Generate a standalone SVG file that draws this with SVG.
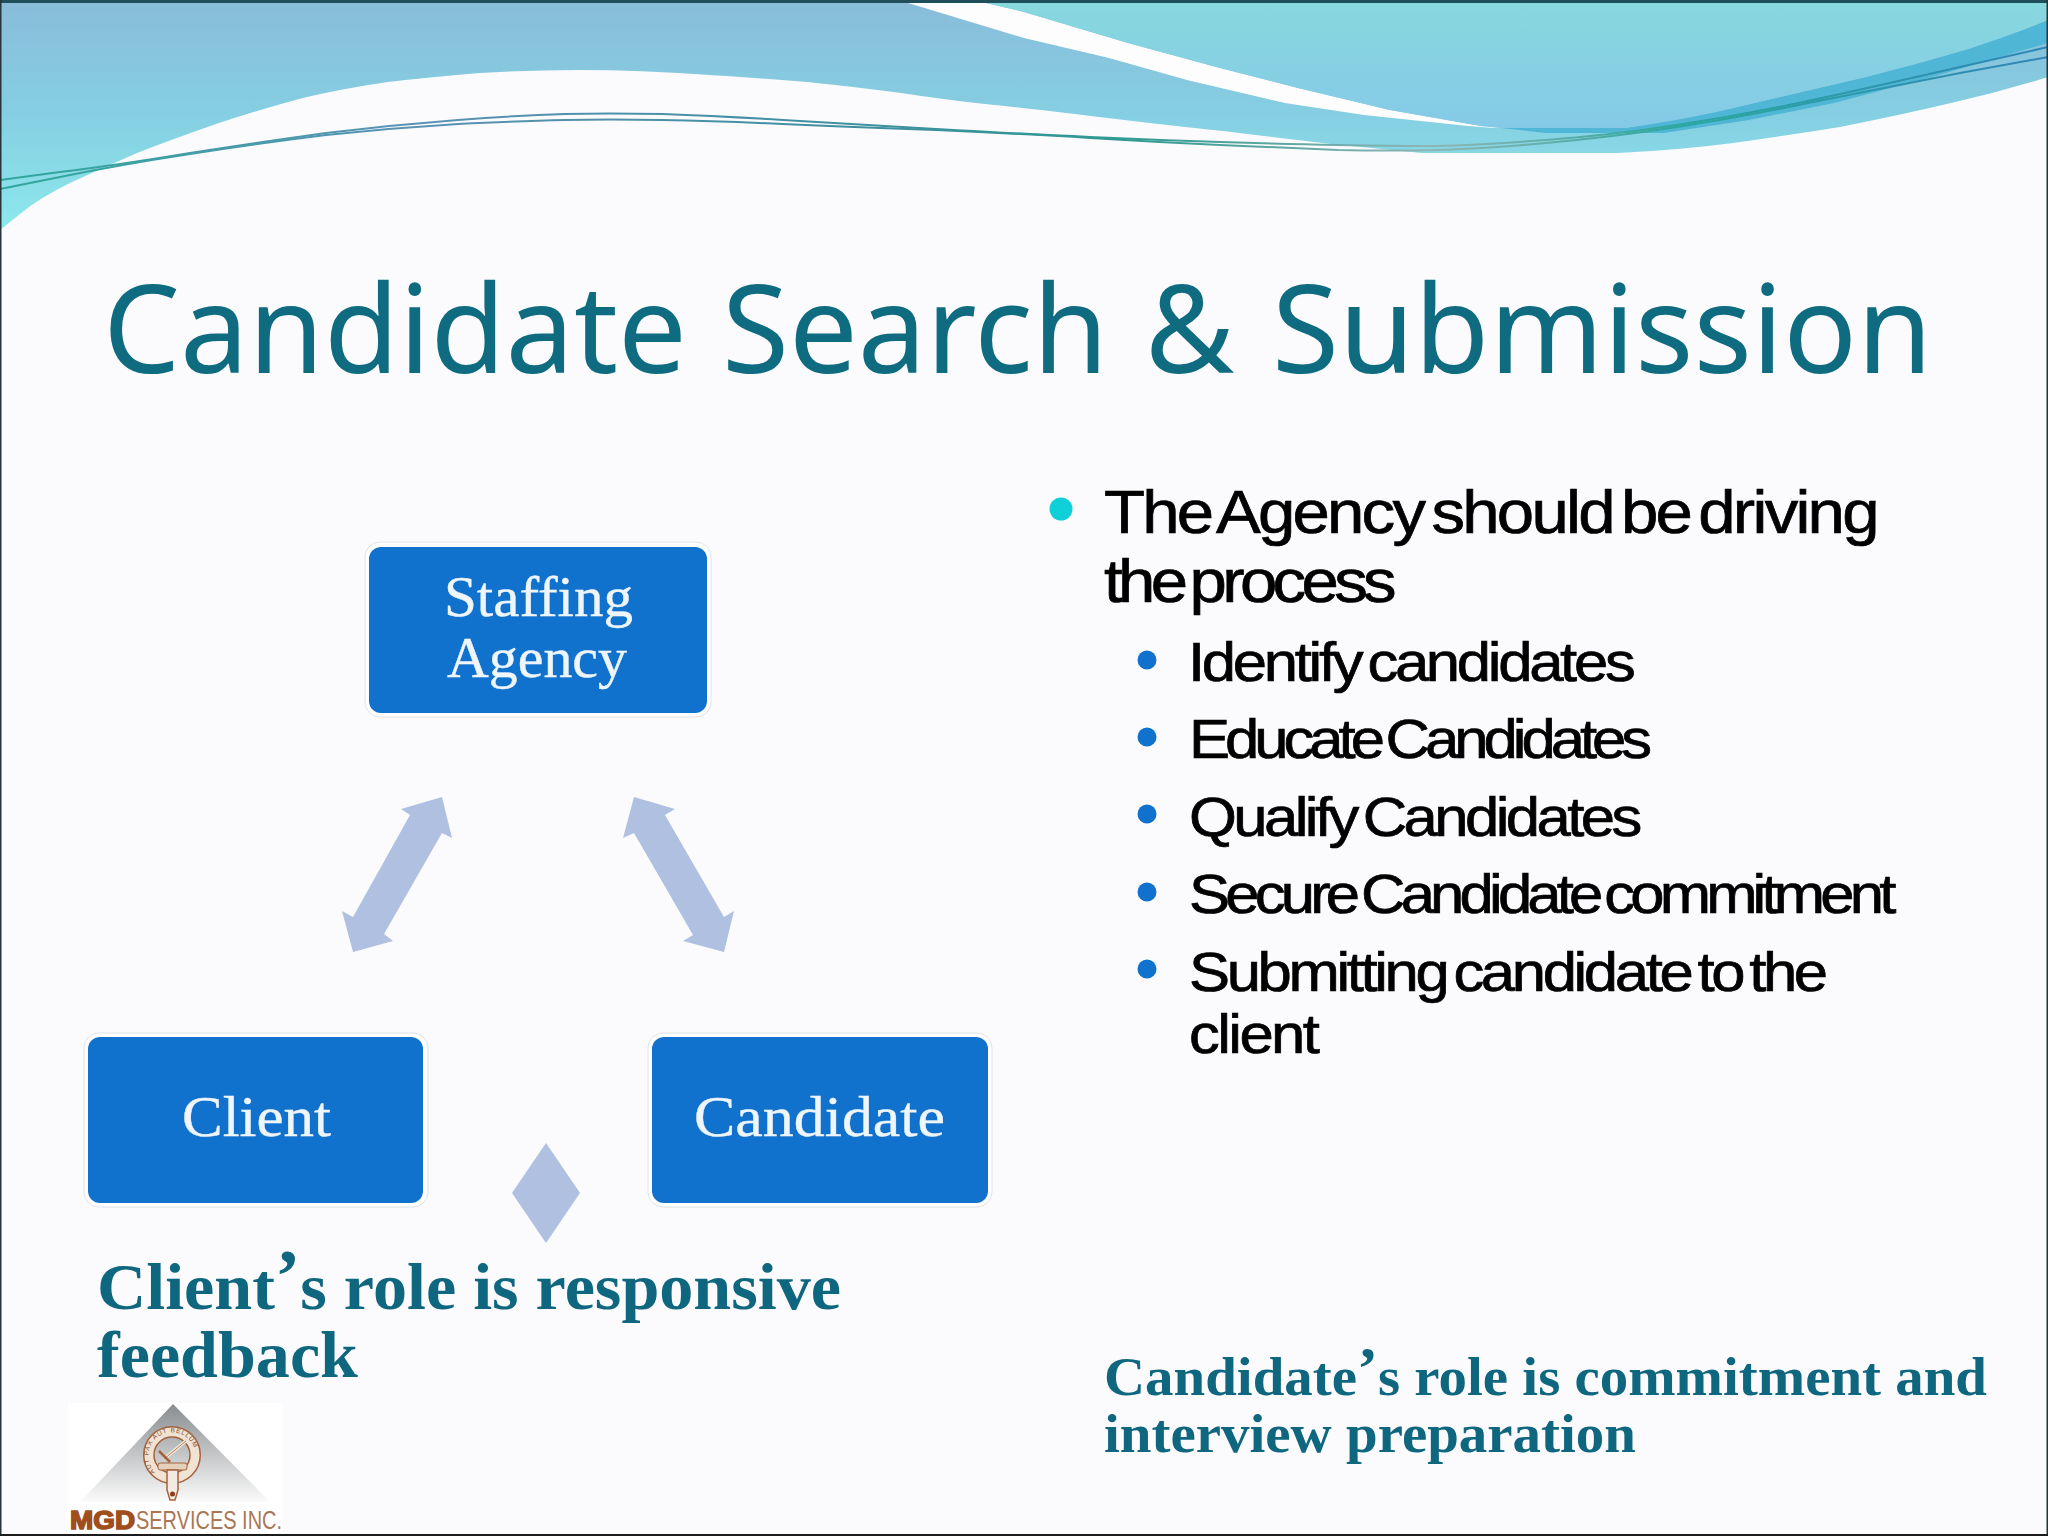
<svg xmlns="http://www.w3.org/2000/svg" width="2048" height="1536" viewBox="0 0 2048 1536">
<defs>
<linearGradient id="lowBand" gradientUnits="userSpaceOnUse" x1="0" y1="0" x2="0" y2="232"><stop offset="0" stop-color="#89bcd9"/><stop offset="0.5" stop-color="#85cfe2"/><stop offset="1" stop-color="#8de9ec"/></linearGradient>
<linearGradient id="upBand" gradientUnits="userSpaceOnUse" x1="0" y1="0" x2="0" y2="130"><stop offset="0" stop-color="#87d8de"/><stop offset="1" stop-color="#85c9e7"/></linearGradient>
<linearGradient id="wire" gradientUnits="userSpaceOnUse" x1="0" y1="0" x2="2048" y2="0"><stop offset="0" stop-color="#2fa79b"/><stop offset="0.2" stop-color="#5a92b4"/><stop offset="0.42" stop-color="#3f8fa0"/><stop offset="0.55" stop-color="#2f9a92"/><stop offset="0.7" stop-color="#8fb5b5"/><stop offset="0.82" stop-color="#2aa79c"/><stop offset="1" stop-color="#2f86b8"/></linearGradient>
<linearGradient id="peak" x1="0" y1="0" x2="0" y2="1"><stop offset="0" stop-color="#898d90"/><stop offset="1" stop-color="#fbfbfb"/></linearGradient>
<path id="mottoArc" d="M155 1472A23.5 23.5 0 1 1 189 1472"/>
</defs>
<style>
.halo{fill:#ffffff;stroke:#dfe2e8;stroke-width:1}
.box{fill:#1172cd}
.nl{font-family:"Liberation Serif","Times New Roman",serif;font-size:58px;fill:#eef5fb;stroke:#eef5fb;stroke-width:0.4}
.arrow{fill:#afc0e1}
.wire{fill:none;stroke:url(#wire);stroke-width:2}
.b1{font-family:"Liberation Sans",Arial,sans-serif;font-size:61px;fill:#000;stroke:#000;stroke-width:0.7;word-spacing:-7px}
.b2{font-family:"Liberation Sans",Arial,sans-serif;font-size:56px;fill:#000;stroke:#000;stroke-width:0.7;word-spacing:-6px}
.role{font-family:"Liberation Serif","Times New Roman",serif;font-weight:bold;fill:#0f667f}
</style>
<rect width="2048" height="1536" fill="#fbfbfd"/>
<g id="background">
<path fill="url(#lowBand)" d="M0 230L20 214Q39 198 72 182Q105 167 137 153Q170 140 219 123Q268 107 307 97Q346 88 388 82Q431 77 480 73Q529 70 580 70Q630 70 694 74Q758 78 807 82Q856 87 901 93Q947 100 985 104Q1024 108 1099 117Q1174 126 1223 131Q1272 137 1331 144L1422 153H1618Q1680 150 1733 143Q1790 135 1840 127Q1900 115 1951 103Q2000 92 2048 77V0H0Z"/>
<path fill="#fdfdfe" d="M908 3H986L1024 12L1128 43L1220 68L1298 88L1390 110L1481 126L1501 128L1494 128L1468 126L1364 115L1285 103L1187 80L1109 58L1024 38Z"/>
<path fill="#4fb6d6" d="M1501 128H1625L1716 112L1866 77L1965 50L2048 20V43L1932 77L1834 103L1749 120L1664 133H1546Z"/>
<path fill="url(#upBand)" d="M986 3H2048V20C2020 32 1990 42 1965 50Q1915 65 1866 77L1716 112Q1670 122 1625 128H1501L1481 126L1390 110L1298 88L1220 68L1128 43L1024 12Z"/>
<path class="wire" d="M0 180L60 172Q118 165 190 153Q261 142 326 133Q392 125 458 120Q523 115 565 114Q607 113 662 114Q718 116 783 120Q849 124 936 129Q1024 134 1090 137Q1155 140 1220 142Q1285 144 1338 145Q1390 146 1436 146Q1481 145 1546 140Q1612 135 1677 125Q1742 115 1808 101Q1873 87 1960 67L2048 47"/>
<path class="wire" d="M0 189L60 177Q118 165 190 154Q261 143 326 135Q392 128 458 124Q523 121 565 120Q607 119 662 120Q718 121 783 124Q849 127 936 130Q1024 134 1090 138Q1155 142 1220 145Q1285 148 1338 150Q1390 151 1436 150Q1481 149 1546 143Q1612 137 1677 127Q1742 117 1808 103Q1873 90 1960 73L2048 57"/>
<rect x="0" y="0" width="2048" height="3" fill="#1e4f5a"/>
<rect x="0" y="0" width="1.5" height="1536" fill="#27343a"/>
<rect x="2046.5" y="0" width="1.5" height="1536" fill="#27343a"/>
<rect x="0" y="1534" width="2048" height="2" fill="#1c1c1c"/>
</g>
<text id="title" y="373" font-family="'Noto Sans','Open Sans',sans-serif" font-size="122" fill="#0f6b80"><tspan x="103">Candidate</tspan> <tspan x="722">Search</tspan> <tspan x="1145">&amp;</tspan> <tspan x="1272">Submission</tspan></text>
<g id="connectors">
<polygon class="arrow" points="442,797 452,838 442,833 384,934 393,941 353,952 342,911 353,917 410,815 401,809"/>
<polygon class="arrow" points="634,797 675,809 665,815 724,917 734,911 724,952 683,941 693,935 634,833 623,838"/>
</g>
<g id="node-staffing">
<rect class="halo" x="365" y="542" width="346" height="175" rx="15"/>
<rect class="box" x="369" y="547" width="338" height="166" rx="12"/>
<text class="nl" x="444" y="616" textLength="189" lengthAdjust="spacingAndGlyphs">Staffing</text>
<text class="nl" x="447" y="677" textLength="180" lengthAdjust="spacingAndGlyphs">Agency</text>
</g>
<g id="node-client">
<rect class="halo" x="84" y="1033" width="344" height="174" rx="15"/>
<rect class="box" x="88" y="1037" width="335" height="166" rx="12"/>
<text class="nl" x="182" y="1136" textLength="149" lengthAdjust="spacingAndGlyphs">Client</text>
</g>
<g id="node-candidate">
<rect class="halo" x="648" y="1033" width="344" height="174" rx="15"/>
<rect class="box" x="652" y="1037" width="336" height="166" rx="12"/>
<text class="nl" x="694" y="1136" textLength="251" lengthAdjust="spacingAndGlyphs">Candidate</text>
</g>
<polygon id="diamond" class="arrow" points="546,1143 580,1193 546,1243 512,1193"/>
<g id="bullets">
<circle cx="1061" cy="509" r="11.5" fill="#0fcfd8"/>
<circle cx="1147" cy="660" r="9.5" fill="#1172cd"/>
<circle cx="1147" cy="737" r="9.5" fill="#1172cd"/>
<circle cx="1147" cy="814" r="9.5" fill="#1172cd"/>
<circle cx="1147" cy="892" r="9.5" fill="#1172cd"/>
<circle cx="1147" cy="969" r="9.5" fill="#1172cd"/>
<text class="b1" transform="translate(1104 533) scale(1.1 1)" textLength="705" lengthAdjust="spacing">The Agency should be driving</text>
<text class="b1" transform="translate(1104 602) scale(1.1 1)" textLength="266" lengthAdjust="spacing">the process</text>
<text class="b2" transform="translate(1188 681) scale(1.1 1)" textLength="407" lengthAdjust="spacing">Identify candidates</text>
<text class="b2" transform="translate(1189 758) scale(1.1 1)" textLength="421" lengthAdjust="spacing">Educate Candidates</text>
<text class="b2" transform="translate(1189 836) scale(1.1 1)" textLength="412" lengthAdjust="spacing">Qualify Candidates</text>
<text class="b2" transform="translate(1189 913) scale(1.1 1)" textLength="643" lengthAdjust="spacing">Secure Candidate commitment</text>
<text class="b2" transform="translate(1189 991) scale(1.1 1)" textLength="581" lengthAdjust="spacing">Submitting candidate to the</text>
<text class="b2" transform="translate(1189 1053) scale(1.1 1)" textLength="119" lengthAdjust="spacing">client</text>
</g>
<g id="client-role">
<text class="role" font-size="66" x="97" y="1309" textLength="744" lengthAdjust="spacingAndGlyphs">Client<tspan dy="-8" font-size="74">’</tspan><tspan dy="8">s role is responsive</tspan></text>
<text class="role" font-size="66" x="97" y="1377" textLength="261" lengthAdjust="spacingAndGlyphs">feedback</text>
</g>
<g id="candidate-role">
<text class="role" font-size="54" x="1104" y="1395" textLength="883" lengthAdjust="spacingAndGlyphs">Candidate<tspan dy="-7" font-size="60">’</tspan><tspan dy="7">s role is commitment and</tspan></text>
<text class="role" font-size="54" x="1104" y="1452" textLength="532" lengthAdjust="spacingAndGlyphs">interview preparation</text>
</g>
<g id="logo">
<rect x="68" y="1403" width="215" height="131" fill="#ffffff"/>
<polygon points="173,1404 270,1502 80,1502" fill="url(#peak)"/>
<circle cx="172" cy="1455" r="23" fill="none" stroke="#f1e3d4" stroke-width="10"/>
<circle cx="172" cy="1455" r="28.3" fill="none" stroke="#a5633c" stroke-width="1.5"/>
<circle cx="172" cy="1455" r="18" fill="none" stroke="#a5633c" stroke-width="1.5"/>
<line x1="186" y1="1441" x2="164" y2="1459" stroke="#f3eadc" stroke-width="3.5"/>
<line x1="186" y1="1441" x2="164" y2="1459" stroke="#a5633c" stroke-width="0.8"/>
<line x1="159" y1="1451" x2="170" y2="1462" stroke="#a5633c" stroke-width="2.5"/>
<rect x="158" y="1463" width="29" height="7" rx="2" fill="#e4d0bb" stroke="#a5633c" stroke-width="1"/>
<path d="M167 1470H178V1490L175 1500H170L167 1490Z" fill="#f3ebe1" stroke="#a5633c" stroke-width="1.5"/>
<circle cx="172.500" cy="1494" r="2.500" fill="#8a3d1e"/>
<text font-family="'Liberation Sans',Arial,sans-serif" font-size="6.5" fill="#8a4f2c" letter-spacing="0.8"><textPath href="#mottoArc">AUT PAX AUT BELLUM</textPath></text>
<text x="70" y="1529" font-family="'Liberation Sans',Arial,sans-serif" font-weight="bold" font-size="25" fill="#a04f1c" stroke="#a04f1c" stroke-width="1.5" textLength="65" lengthAdjust="spacingAndGlyphs">MGD</text>
<text x="136" y="1529" font-family="'Liberation Sans',Arial,sans-serif" font-size="25" fill="#ab7654" textLength="146" lengthAdjust="spacingAndGlyphs">SERVICES INC.</text>
</g>
</svg>
